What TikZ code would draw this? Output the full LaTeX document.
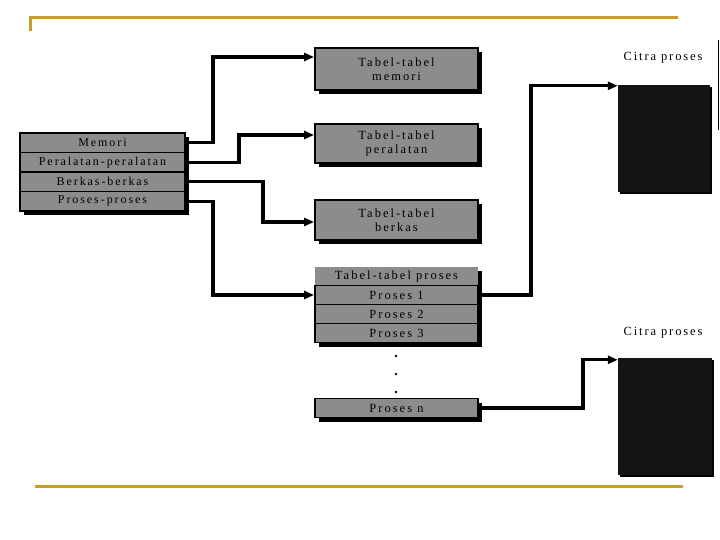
\documentclass[tikz,border=0pt]{standalone}
\usepackage{fontspec}
\setmainfont{Liberation Serif}
\newfontfamily\spaced{Liberation Serif}[LetterSpace=16]
\newfontfamily\lbl{Liberation Serif}[LetterSpace=15]
\usetikzlibrary{arrows.meta,shadows}
\definecolor{gold}{RGB}{200,160,40}

\begin{document}
\begin{tikzpicture}[x=1pt,y=-1pt,
    row/.style={draw=black,line width=1.8pt,fill=black!45,minimum width=165,minimum height=19.5,inner sep=0pt,font=\spaced\fontsize{12}{12}\selectfont,
        drop shadow={shadow xshift=4pt,shadow yshift=-4pt,fill=black,opacity=1}},
    tbl/.style={row,minimum width=163,align=center,font=\spaced\fontsize{12.5}{14}\selectfont},
    img/.style={fill=black!92,inner sep=0pt,drop shadow={shadow xshift=2pt,shadow yshift=-2pt,fill=black,opacity=1}},
    link/.style={line width=3.2pt,-{Triangle[length=10pt,width=8pt]}}]
    \useasboundingbox[fill=white] (0,0) rectangle (720,540);
    \draw[gold,line width=3pt] (30,31) -- (30,18) -- (678,18);
    \draw[gold,line width=3pt] (35,486) -- (683,486);
    \draw[line width=1pt] (718,40) -- (718,130);
    % kiri
    \foreach \n/\t/\y in {mem/Memori/142.75,per/Peralatan-peralatan/162.25,ber/Berkas-berkas/181.75,pro/Proses-proses/201.25}{
        \node[row] (\n) at (102.5,\y) {\t};
    }
    % tabel
    \node[tbl,minimum height=42] (tmem) at (396.5,69) {Tabel-tabel\\memori};
    \node[tbl,minimum height=39] (tper) at (396.5,143.5) {Tabel-tabel\\peralatan};
    \node[tbl,minimum height=40] (tber) at (396.5,220) {Tabel-tabel\\berkas};
    \node[tbl,minimum height=19,draw=none,drop shadow={opacity=0}] (tpro) at (396.5,276) {Tabel-tabel proses};
    \foreach \n/\t/\y in {p1/Proses 1/295,p2/Proses 2/314,p3/Proses 3/333,pn/Proses n/408}{
        \node[tbl,minimum height=19] (\n) at (396.5,\y) {\t};
    }
    \foreach \y in {356,374,392}{
        \fill (396,\y) circle (1.3);
    }
    % citra
    \node[img,minimum width=92,minimum height=107] (img1) at (664,138.5) {};
    \node[img,minimum width=94,minimum height=117] (img2) at (665,416.5) {};
    \node[font=\lbl\fontsize{12.5}{14}\selectfont] (c1) at (663,58) {Citra proses};
    \node[font=\lbl\fontsize{12.5}{14}\selectfont] (c2) at (663,333) {Citra proses};
    % panah
    \draw[link] (mem.east) -- ++(27,0) |- ([yshift=12pt]tmem.west);
    \draw[link] (per.east) -- ++(53,0) |- ([yshift=8.5pt]tper.west);
    \draw[link] (ber.east) -- ++(77,0) |- ([yshift=-2pt]tber.west);
    \draw[link] (pro.east) -- ++(27,0) |- (p1.west);
    \draw[link] (p1.east) -- ++(52,0) |- ([yshift=-1pt]img1.north west);
    \draw[link] (pn.east) -- ++(104,0) |- ([yshift=-2pt]img2.north west);
\end{tikzpicture}
\end{document}
